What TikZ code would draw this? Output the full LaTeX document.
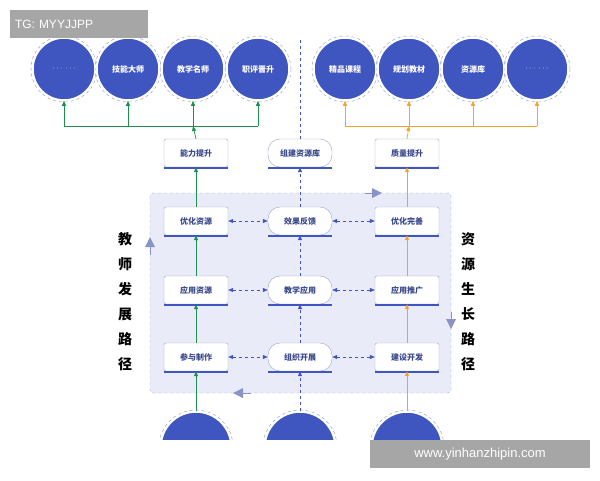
\documentclass[tikz,border=0pt]{standalone}
\usepackage{fontspec}
\setmainfont{Liberation Sans}
\newfontfamily\cjk{Noto Sans CJK SC}
\usetikzlibrary{arrows.meta}

\definecolor{navy}{HTML}{3F56C0}
\definecolor{ink}{HTML}{3B4A8E}
\definecolor{leaf}{HTML}{1E9050}
\definecolor{amber}{HTML}{F0A52A}
\definecolor{haze}{HTML}{E9ECF8}
\definecolor{rim}{HTML}{9AA2C8}

\tikzset{
  goal/.style={circle, fill=navy, draw=white, line width=1.5pt, minimum size=62pt,
    text=white, font=\cjk\bfseries\fontsize{8}{9}\selectfont},
  ring/.style={draw=rim, dashed, line width=0.5pt},
  stage/.style={draw=rim, fill=white, rounded corners=1.5pt, minimum width=64pt,
    minimum height=28pt, text=ink, font=\cjk\bfseries\fontsize{8}{9}\selectfont},
  pill/.style={stage, rounded corners=12pt},
  base/.style={fill=navy},
  link/.style={-{Triangle[width=4pt,length=5pt]}, line width=0.7pt},
  both/.style={{Triangle[width=4pt,length=5pt]}-{Triangle[width=4pt,length=5pt]},
    navy, dashed, line width=0.6pt},
  flow/.style={-{Triangle[width=10pt,length=10pt]}, rim!80!navy, line width=0pt},
  side/.style={font=\cjk\bfseries\fontsize{14}{25}\selectfont, align=center}
}

\begin{document}
\begin{tikzpicture}[x=1pt,y=-1pt]
  \useasboundingbox (0,0) rectangle (600,480);

  % circles at the top
  \foreach \n/\x/\t in {a/64/{$\cdots\ \cdots$},b/128/技能大师,c/193/教学名师,d/258/职评晋升,
      e/345/精品课程,f/409/规划教材,g/473/资源库,h/537/{$\cdots\ \cdots$}} {
    \draw[ring] (\x,69) circle (33);
    \node[goal] (top\n) at (\x,69) {\t};
  }

  % main panel
  \draw[rim, dashed, fill=haze, rounded corners=3pt] (150,193) rectangle (451,393);

  % bottom circles, cut at the edge
  \begin{scope}
    \clip (0,0) rectangle (600,440);
    \foreach \n/\x in {l/196,m/300,r/407} {
      \draw[ring] (\x,447) circle (37);
      \node[goal, minimum size=70pt] (bot\n) at (\x,447) {};
    }
  \end{scope}
  \fill[white] (0,440) rectangle (600,480);

  % boxes
  \foreach \n/\x/\y/\t/\s in {up/196/153/能力提升/stage, lib/300/153/组建资源库/pill, qa/407/153/质量提升/stage,
      tl/196/221/优化资源/stage, tm/300/221/效果反馈/pill, tr/407/221/优化完善/stage,
      ml/196/290/应用资源/stage, mm/300/290/教学应用/pill, mr/407/290/应用推广/stage,
      bl/196/357/参与制作/stage, bm/300/357/组织开展/pill, br/407/357/建设开发/stage} {
    \node[\s] (\n) at (\x,\y) {\t};
    \fill[base] ([yshift=-2pt]\n.south west) rectangle (\n.south east);
  }

  % green path
  \coordinate (gbus) at (196,126);
  \draw[leaf, line width=0.7pt] (topa.south |- gbus) -- (topd.south |- gbus);
  \foreach \n in {a,b,c,d} \draw[link, leaf] (top\n.south |- gbus) -- (top\n.south);
  \draw[link, leaf] (up.north) -- (topc.south |- gbus);
  \draw[link, leaf] (tl.north) -- (up.south);
  \draw[link, leaf] (ml.north) -- (tl.south);
  \draw[link, leaf] (bl.north) -- (ml.south);
  \draw[link, leaf] (botl.north) -- (bl.south);

  % orange path
  \draw[amber, line width=0.7pt] (tope.south |- gbus) -- (toph.south |- gbus);
  \foreach \n in {e,f,g,h} \draw[link, amber] (top\n.south |- gbus) -- (top\n.south);
  \draw[link, amber] (qa.north) -- (topf.south |- gbus);
  \draw[link, amber] (tr.north) -- (qa.south);
  \draw[link, amber] (mr.north) -- (tr.south);
  \draw[link, amber] (br.north) -- (mr.south);
  \draw[link, amber] (botr.north) -- (br.south);

  % middle path
  \coordinate (mtop) at (300,40);
  \draw[navy, dashed, line width=0.6pt] (mtop) -- (lib.north);
  \draw[link, navy, dashed] (tm.north) -- (lib.south);
  \draw[link, navy, dashed] (mm.north) -- (tm.south);
  \draw[link, navy, dashed] (bm.north) -- (mm.south);
  \draw[link, navy, dashed] (botm.north) -- (bm.south);

  % links between columns
  \foreach \r in {t,m,b} {
    \draw[both] (\r l.east) -- (\r m.west);
    \draw[both] (\r m.east) -- (\r r.west);
  }

  % circulation marks on the panel
  \draw[flow] (365,193) -- (382,193);
  \draw[flow] (451,312) -- (451,329);
  \draw[flow] (250,393) -- (233,393);
  \draw[flow] (150,254) -- (150,237);

  \node[side] (lefttxt) at (125,302) {教\\师\\发\\展\\路\\径};
  \node[side] (righttxt) at (468,302) {资\\源\\生\\长\\路\\径};

  % watermarks
  \node[fill=black!35, text=white, font=\fontsize{12}{14}\selectfont, minimum width=138pt,
    minimum height=28pt, text width=128pt, align=left] (tg) at (79,24) {TG: MYYJJPP};
  \node[fill=black!35, text=white, font=\fontsize{13}{15}\selectfont, minimum width=220pt,
    minimum height=28pt] (site) at (480,454) {www.yinhanzhipin.com};
\end{tikzpicture}
\end{document}
